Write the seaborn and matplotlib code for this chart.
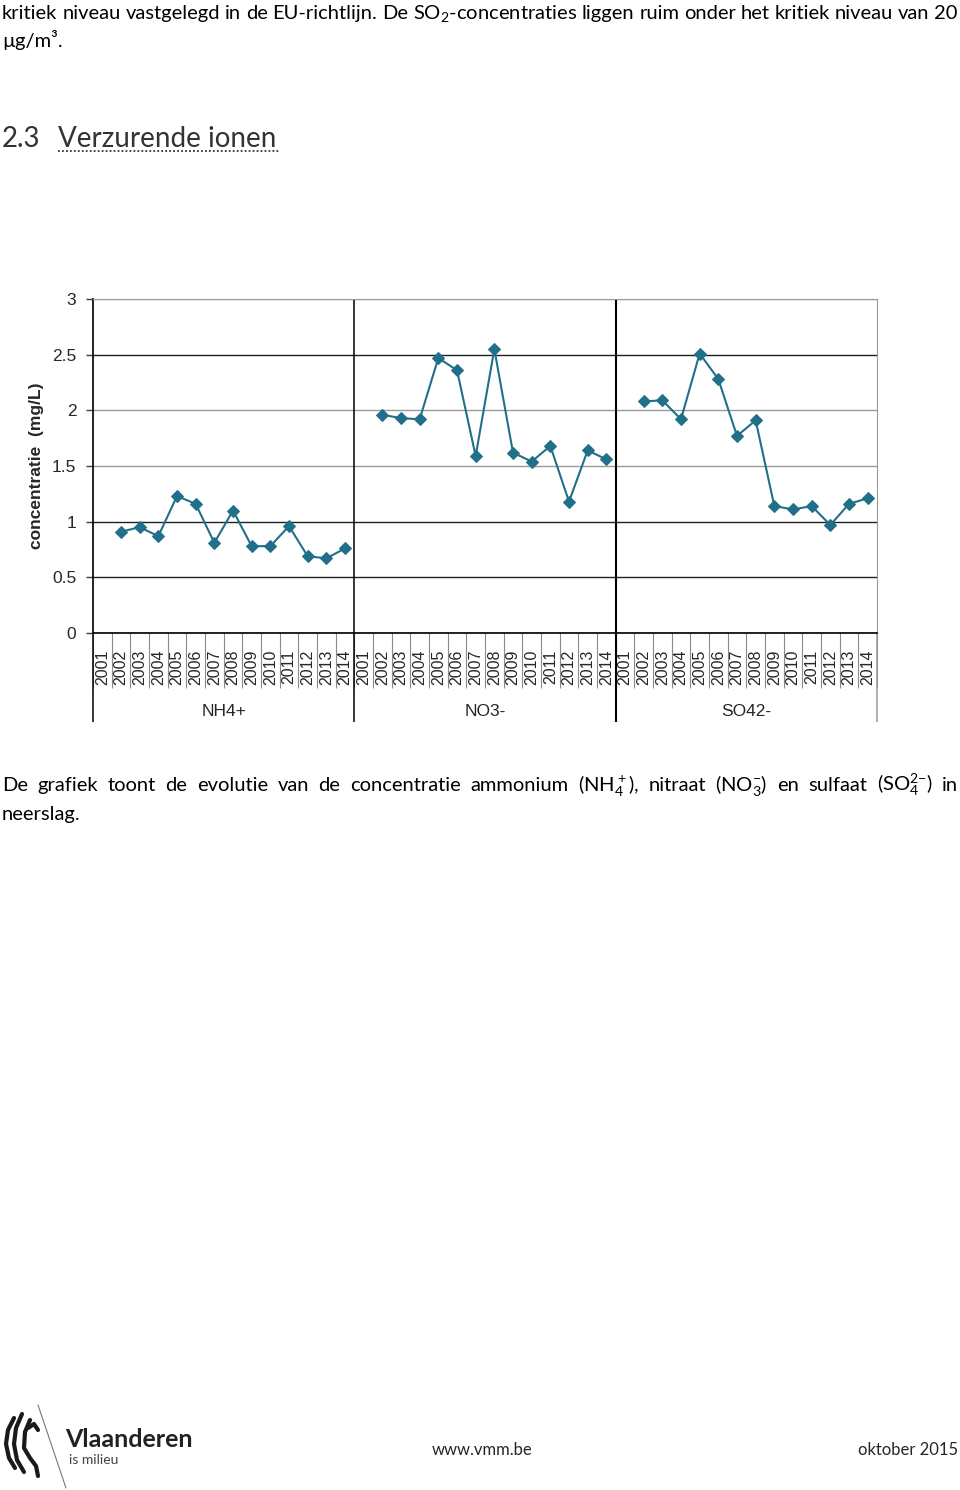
import numpy as np
import pandas as pd
import seaborn as sns
import matplotlib.pyplot as plt

# data (2001 has no value in each series)
years = list(range(2001, 2015))
ions = ['NH4+', 'NO3-', 'SO42-']
nh4 = [np.nan, 0.91, 0.95, 0.87, 1.23, 1.16, 0.81, 1.10, 0.78, 0.78, 0.96, 0.69, 0.67, 0.76]
no3 = [np.nan, 1.96, 1.93, 1.92, 2.47, 2.36, 1.59, 2.55, 1.62, 1.54, 1.68, 1.18, 1.64, 1.56]
so4 = [np.nan, 2.08, 2.09, 1.92, 2.51, 2.28, 1.77, 1.91, 1.14, 1.11, 1.14, 0.97, 1.16, 1.21]
y_ticks = [0, 0.5, 1, 1.5, 2, 2.5, 3]

W, H = 960, 1490
TEAL = '#21708a'

sns.set_style('white')
plt.rcParams['font.family'] = ['Lato', 'DejaVu Sans']
plt.rcParams['mathtext.fontset'] = 'custom'
plt.rcParams['mathtext.rm'] = 'Lato'
plt.rcParams['mathtext.default'] = 'regular'

rows = []
for gi, (ion, vals) in enumerate(zip(ions, [nh4, no3, so4])):
    for yi, (yr, v) in enumerate(zip(years, vals)):
        rows.append({'ion': ion, 'year': yr, 'value': v, 'pos': gi * len(years) + yi + 0.5})
df = pd.DataFrame(rows)

fig = plt.figure(figsize=(W / 100, H / 100), dpi=100)


def fx(x):
    return x / W


def fy(y):
    return 1 - y / H


renderer = fig.canvas.get_renderer()


def justified(words, x0, x1, y, **kw):
    texts = [fig.text(fx(x0), fy(y), w, va='baseline', **kw) for w in words]
    widths = [t.get_window_extent(renderer).width for t in texts]
    gap = (x1 - x0 - sum(widths)) / (len(words) - 1)
    x = x0
    for t, w in zip(texts, widths):
        t.set_x(fx(x))
        x += w + gap


body = dict(fontsize=14.5, color='black')
justified('kritiek niveau vastgelegd in de EU-richtlijn. De SO$_2$-concentraties liggen ruim onder het kritiek niveau van 20'.split(),
          2, 958, 19, **body)
fig.text(fx(2), fy(47), 'µg/m³.', va='baseline', **body)

# heading
fig.text(fx(2), fy(147), '2.3', va='baseline', fontsize=20, color='#333333')
fig.text(fx(58), fy(147), 'Verzurende ionen', va='baseline', fontsize=20, color='#333333')
fig.add_artist(plt.Line2D([fx(58), fx(280)], [fy(151), fy(151)], color='#333333', lw=1.3,
                          linestyle=(0, (1, 1.2))))

# chart
ax = fig.add_axes([fx(93), fy(633), fx(877 - 93), (633 - 299) / H])
sns.lineplot(data=df.dropna(), x='pos', y='value', hue='ion', palette=[TEAL] * 3,
             marker='D', markersize=6, markeredgecolor=TEAL, linewidth=1.5,
             legend=False, ax=ax)
n = len(df)
ax.set_xlim(0, n)
ax.set_ylim(0, 3)
ax.set_xlabel('')
ax.set_ylabel('concentratie  (mg/L)', fontsize=12.5, fontweight='bold',
              family=['Liberation Sans'], labelpad=6)

for t in y_ticks:
    col = '#9a9a9a' if t in (1.5, 2, 3) else '#202020'
    ax.axhline(t, color=col, lw=1, zorder=0)
ax.set_yticks(y_ticks)
ax.set_yticklabels([f'{t:g}' for t in y_ticks], family=['Liberation Sans'], fontsize=12.5)
ax.tick_params(axis='y', length=5, width=1, color='#404040', pad=7, left=True)

ax.set_xticks(df['pos'])
ax.set_xticklabels([str(y) for y in df['year']], rotation=90, family=['Liberation Sans'],
                   fontsize=11.5, va='top')
ax.tick_params(axis='x', length=0, pad=12)

for s in ['top', 'right']:
    ax.spines[s].set_color('#9a9a9a')
for s in ['left', 'bottom']:
    ax.spines[s].set_color('black')
    ax.spines[s].set_linewidth(1.2)

trans = ax.get_xaxis_transform()
ax.vlines(range(n + 1), -0.165, 0, transform=trans, colors='#8a8a8a', lw=0.8, clip_on=False)
for b in range(0, n + 1, len(years)):
    col = '#9a9a9a' if b == n else 'black'
    top = 1 if b not in (0, n) else 0
    ax.vlines(b, -0.266, top, transform=trans, colors=col, lw=1.5 if b == 28 else 1.1,
              clip_on=False)
for gi, ion in enumerate(ions):
    ax.text(gi * len(years) + len(years) / 2, -0.235, ion, transform=trans, ha='center',
            va='center', fontsize=12.5, family=['Liberation Sans'])

# caption
justified(['De', 'grafiek', 'toont', 'de', 'evolutie', 'van', 'de', 'concentratie', 'ammonium',
           '(NH$_4^+$),', 'nitraat', '(NO$_3^{{-}}$)', 'en', 'sulfaat', '(SO$_4^{2{-}}$)', 'in'],
          2, 958, 791, **body)
fig.text(fx(2), fy(820), 'neerslag.', va='baseline', **body)

# footer: rough lion strokes, divider and texts
for xs, ys in [([14, 8, 6, 9, 15], [1418, 1430, 1444, 1458, 1468]),
               ([22, 16, 14, 17, 24], [1414, 1428, 1444, 1460, 1472]),
               ([30, 25, 24, 30, 36, 38], [1420, 1432, 1448, 1458, 1466, 1476]),
               ([28, 34, 38], [1428, 1424, 1430])]:
    fig.add_artist(plt.Line2D([fx(x) for x in xs], [fy(y) for y in ys], color='#1a1a1a',
                              lw=3, solid_capstyle='round'))
fig.add_artist(plt.Line2D([fx(38), fx(66)], [fy(1405), fy(1488)], color='#777777', lw=0.8))
fig.text(fx(65), fy(1447), 'Vlaanderen', va='baseline', fontsize=18, fontweight='bold',
         color='#222222')
fig.text(fx(69), fy(1464), 'is milieu', va='baseline', fontsize=10, color='#444444')
fig.text(fx(432), fy(1455), 'www.vmm.be', va='baseline', fontsize=12)
fig.text(fx(958), fy(1455), 'oktober 2015', va='baseline', ha='right', fontsize=12)

fig.savefig('out.png', dpi=100)
